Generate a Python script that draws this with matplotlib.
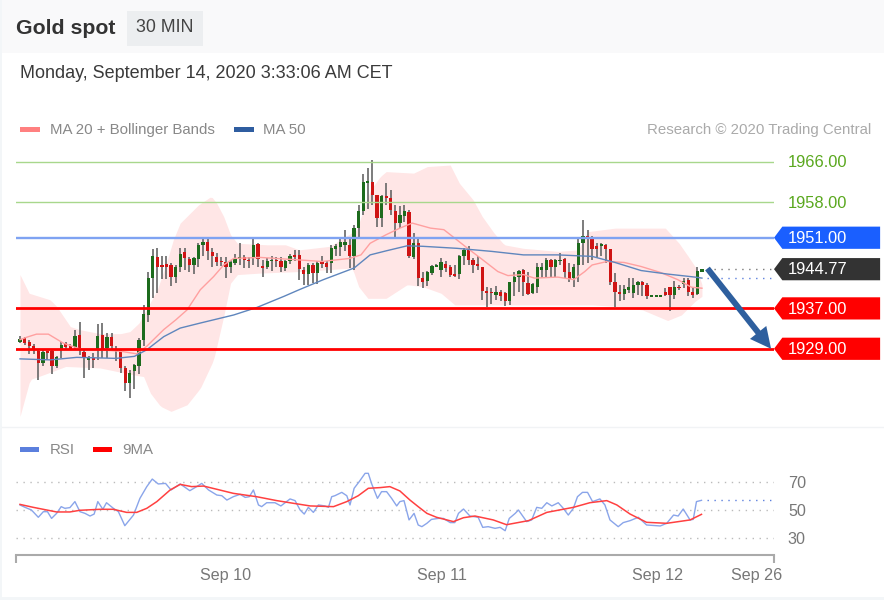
import numpy as np
import matplotlib
matplotlib.use("Agg")
import matplotlib.pyplot as plt
from matplotlib.patches import Polygon, Rectangle

plt.rcParams['font.family'] = ['Liberation Sans', 'DejaVu Sans']

opens = [1930.4, 1931.1, 1930.3, 1929.5, 1928.6, 1926.2, 1928.5, 1928.5, 1925.5, 1928.8,
         1930.1, 1929.5, 1929.3, 1931.8, 1928.3, 1926.7, 1927.1, 1928.8, 1931.8, 1929.1,
         1931.3, 1928.9, 1928.7, 1925.2, 1922.2, 1924.5, 1925.6, 1930.8, 1935.6, 1943.0,
         1947.1, 1945.6, 1945.8, 1945.6, 1943.3, 1945.2, 1948.1, 1946.8, 1945.6, 1946.8,
         1949.6, 1950.1, 1948.1, 1947.1, 1946.4, 1946.1, 1945.3, 1946.0, 1946.8, 1947.1,
         1946.6, 1946.9, 1949.7, 1945.4, 1945.3, 1946.3, 1946.6, 1946.3, 1945.0, 1946.3,
         1947.6, 1947.6, 1944.6, 1943.8, 1945.6, 1944.0, 1946.2, 1946.0, 1946.0, 1948.8,
         1949.1, 1949.6, 1949.6, 1947.3, 1952.9, 1956.2, 1961.8, 1962.1, 1959.5, 1954.9,
         1959.2, 1958.8, 1956.2, 1953.9, 1955.4, 1956.1, 1947.1, 1949.9, 1943.0, 1942.5,
         1944.0, 1945.3, 1944.6, 1945.8, 1945.2, 1943.7, 1943.8, 1947.4, 1948.6, 1946.6,
         1945.8, 1945.3, 1940.5, 1940.3, 1939.7, 1940.2, 1940.0, 1938.4, 1942.2, 1943.3,
         1944.6, 1942.1, 1940.0, 1941.3, 1944.6, 1944.6, 1946.5, 1945.3, 1946.3, 1946.8,
         1944.3, 1943.0, 1945.6, 1949.9, 1951.4, 1951.2, 1949.3, 1949.3, 1949.6, 1948.8,
         1942.3, 1940.3, 1939.9, 1940.7, 1940.0, 1941.7, 1942.2, 1941.7, 1939.3, 1939.3,
         1939.3, 1940.2, 1941.2, 1939.7, 1941.2, 1941.8, 1942.7, 1940.3, 1939.9, 1944.2]
closes = [1931.0, 1930.1, 1929.5, 1929.0, 1926.2, 1928.3, 1928.1, 1925.6, 1927.3, 1929.8,
          1929.3, 1929.0, 1931.6, 1928.8, 1927.1, 1927.1, 1926.7, 1931.6, 1928.9, 1931.4,
          1929.5, 1928.5, 1925.2, 1922.3, 1924.3, 1925.8, 1930.8, 1935.9, 1943.0, 1947.3,
          1945.3, 1945.3, 1945.3, 1943.3, 1945.3, 1947.8, 1946.9, 1945.6, 1946.9, 1949.5,
          1950.1, 1948.3, 1947.3, 1946.2, 1946.1, 1945.2, 1946.1, 1946.9, 1947.1, 1946.5,
          1946.3, 1949.6, 1946.8, 1945.0, 1946.4, 1946.6, 1946.3, 1945.3, 1946.3, 1947.3,
          1947.1, 1944.8, 1943.8, 1945.5, 1944.1, 1946.0, 1945.8, 1945.3, 1948.9, 1949.3,
          1950.1, 1950.1, 1947.3, 1952.9, 1956.2, 1962.0, 1962.3, 1959.5, 1954.9, 1959.2,
          1958.8, 1956.5, 1953.9, 1955.5, 1956.2, 1947.3, 1949.9, 1943.0, 1942.3, 1944.3,
          1945.4, 1945.6, 1946.1, 1945.0, 1943.7, 1943.5, 1947.4, 1948.6, 1946.6, 1945.6,
          1945.4, 1940.5, 1940.0, 1940.0, 1940.3, 1939.4, 1938.4, 1942.2, 1943.3, 1944.5,
          1942.3, 1939.9, 1941.8, 1945.2, 1945.2, 1946.6, 1945.3, 1946.5, 1946.6, 1944.3,
          1942.8, 1945.3, 1949.9, 1951.4, 1951.1, 1948.8, 1948.7, 1949.8, 1948.8, 1942.3,
          1940.3, 1939.9, 1940.8, 1941.2, 1941.7, 1942.2, 1941.7, 1939.4, 1939.4, 1939.4,
          1939.4, 1939.7, 1939.7, 1941.3, 1941.0, 1942.5, 1940.3, 1939.7, 1944.5, 1944.8]
highs = [1931.6, 1931.4, 1930.8, 1930.0, 1929.0, 1928.8, 1928.5, 1928.8, 1927.5, 1930.3,
         1930.3, 1929.9, 1932.8, 1934.3, 1928.8, 1927.5, 1928.1, 1933.9, 1934.1, 1932.2,
         1932.1, 1929.5, 1928.8, 1925.6, 1924.8, 1925.9, 1931.1, 1937.7, 1944.3, 1948.7,
         1948.9, 1947.3, 1947.3, 1946.0, 1945.6, 1948.9, 1948.9, 1947.1, 1947.1, 1949.9,
         1950.7, 1950.7, 1948.9, 1947.9, 1947.1, 1947.1, 1946.6, 1947.8, 1949.9, 1947.6,
         1947.1, 1950.7, 1949.9, 1946.5, 1946.9, 1947.3, 1947.1, 1947.1, 1946.5, 1947.8,
         1948.6, 1948.6, 1945.3, 1946.0, 1946.0, 1946.3, 1947.3, 1946.3, 1949.6, 1949.8,
         1950.9, 1952.6, 1950.9, 1953.5, 1957.5, 1963.6, 1964.8, 1966.3, 1959.5, 1959.5,
         1961.8, 1960.5, 1957.5, 1957.2, 1957.5, 1956.5, 1951.9, 1950.9, 1944.3, 1944.5,
         1945.6, 1945.8, 1946.9, 1946.3, 1945.6, 1945.6, 1947.6, 1948.9, 1949.3, 1946.9,
         1947.4, 1945.3, 1941.3, 1941.0, 1941.5, 1940.7, 1940.2, 1942.3, 1944.3, 1944.6,
         1944.8, 1944.3, 1942.1, 1946.0, 1946.0, 1946.9, 1946.8, 1946.8, 1947.9, 1946.9,
         1946.0, 1945.8, 1951.1, 1954.5, 1952.6, 1951.4, 1949.9, 1949.9, 1949.8, 1948.8,
         1944.0, 1941.7, 1941.7, 1943.0, 1943.0, 1942.5, 1942.5, 1942.0, 1939.4, 1939.4,
         1939.4, 1941.0, 1941.2, 1942.5, 1941.7, 1943.0, 1943.0, 1941.3, 1945.3, 1944.8]
lows = [1930.1, 1929.8, 1928.0, 1928.0, 1922.9, 1925.5, 1926.7, 1924.0, 1925.2, 1927.1,
        1928.8, 1928.7, 1928.8, 1927.8, 1923.2, 1924.7, 1925.2, 1926.8, 1927.1, 1927.1,
        1928.8, 1926.5, 1924.3, 1920.7, 1919.2, 1921.0, 1924.0, 1929.5, 1934.4, 1939.0,
        1940.1, 1942.8, 1942.8, 1941.5, 1942.1, 1944.3, 1944.6, 1944.3, 1943.8, 1945.2,
        1947.4, 1946.5, 1945.2, 1945.4, 1945.4, 1943.1, 1944.0, 1945.6, 1945.6, 1945.0,
        1945.0, 1945.6, 1945.3, 1943.2, 1944.8, 1944.5, 1945.3, 1944.3, 1944.5, 1945.8,
        1946.3, 1942.7, 1941.7, 1941.7, 1942.0, 1941.9, 1945.0, 1944.1, 1944.0, 1947.3,
        1947.3, 1948.3, 1945.0, 1944.6, 1950.9, 1955.5, 1956.7, 1957.5, 1953.1, 1953.2,
        1957.5, 1955.5, 1950.7, 1952.9, 1954.2, 1946.9, 1946.8, 1941.5, 1941.0, 1941.5,
        1943.7, 1945.2, 1943.3, 1944.3, 1943.3, 1943.2, 1942.8, 1945.6, 1945.6, 1944.1,
        1944.6, 1938.7, 1937.2, 1937.9, 1938.7, 1938.4, 1937.4, 1937.7, 1939.4, 1940.3,
        1939.4, 1939.7, 1939.9, 1940.1, 1943.0, 1943.0, 1943.2, 1943.3, 1945.6, 1943.0,
        1942.3, 1941.2, 1942.3, 1945.6, 1946.0, 1946.6, 1946.9, 1947.3, 1946.0, 1941.7,
        1937.2, 1938.4, 1938.7, 1940.0, 1939.0, 1939.7, 1939.4, 1938.8, 1939.3, 1939.3,
        1939.3, 1939.5, 1936.4, 1938.8, 1940.7, 1941.0, 1939.5, 1939.0, 1939.7, 1944.2]

upper_x = [0, 2, 6.6, 8, 9.5, 11, 13, 17.5, 22, 24, 26, 28, 30, 32, 33.5, 35, 39, 41.8, 43, 44.5,
           46, 47.5, 54, 58, 61, 67.7, 73.6, 75, 76.6, 78.7, 80, 86, 89, 94, 96, 99, 101, 103.6,
           105.8, 110, 117.5, 122, 124, 130, 141, 144, 146, 148, 149]
upper_y = [1943.7, 1940.0, 1938.7, 1937.4, 1935.4, 1933.4, 1932.8, 1932.0, 1932.0, 1932.4, 1934.1,
           1937.4, 1940.7, 1946.0, 1950.6, 1953.9, 1957.5, 1959.2, 1957.8, 1955.2, 1951.6, 1949.9,
           1949.6, 1949.6, 1948.6, 1949.3, 1952.6, 1956.5, 1960.5, 1963.1, 1964.1, 1963.8, 1965.1,
           1965.4, 1961.8, 1958.5, 1955.2, 1951.9, 1949.6, 1948.9, 1948.3, 1948.6, 1952.2, 1952.9,
           1952.9, 1949.9, 1947.3, 1944.6, 1941.7]
lower_x = [0, 2.2, 5, 10, 17.5, 25, 27, 28.5, 30.7, 33, 36.5, 39.4, 42.3, 44.5, 46, 47.5, 52.5, 61,
           66, 72.6, 74, 76, 80, 84.6, 88, 92, 95, 103, 110, 125, 130, 136, 141.5, 144.5, 147.5, 149]
lower_y = [1915.6, 1922.9, 1923.8, 1925.5, 1925.2, 1923.8, 1923.5, 1920.2, 1917.6, 1916.6, 1917.9,
           1921.2, 1926.8, 1935.4, 1942.0, 1943.7, 1944.0, 1944.3, 1944.6, 1945.0, 1941.3, 1939.0,
           1939.0, 1941.7, 1941.3, 1940.0, 1937.7, 1937.7, 1937.7, 1937.7, 1937.4, 1936.7, 1934.6,
           1935.7, 1938.4, 1939.4]
ma20_x = [0, 1.5, 3.6, 6.2, 9.5, 13, 17.5, 22, 25.5, 27.7, 31.4, 34, 36.5, 39.4, 42.3, 44.5, 46.7,
          52.5, 61, 66, 72, 74.5, 76.5, 80, 83, 85.7, 89.7, 92.6, 95, 97.8, 100.7, 104.4, 106.6,
          110, 112.4, 117.5, 121, 123.4, 125, 128.3, 132, 135.7, 140, 143.7, 146.7, 149]
ma20_y = [1930.8, 1931.3, 1931.9, 1931.9, 1930.1, 1929.0, 1928.8, 1928.5, 1928.0, 1929.5, 1932.8,
          1934.7, 1936.7, 1940.7, 1943.3, 1945.6, 1946.9, 1947.1, 1946.6, 1946.3, 1946.9, 1947.6,
          1949.9, 1951.6, 1952.9, 1953.9, 1952.9, 1952.6, 1950.9, 1948.9, 1946.9, 1944.3, 1943.5,
          1943.7, 1943.0, 1943.2, 1942.7, 1944.3, 1945.6, 1946.3, 1946.1, 1945.3, 1944.1, 1942.7,
          1941.2, 1941.0]
ma50_x = [0, 6.6, 12.4, 21, 25, 27.7, 31.4, 35, 39.4, 46.7, 51.8, 57.7, 61, 66.3, 73, 76.5, 80, 84.6,
          88, 95.5, 103, 110, 117.5, 125, 130, 135.7, 141.5, 147.5, 149]
ma50_y = [1927.0, 1926.8, 1927.3, 1927.1, 1927.5, 1928.8, 1931.4, 1933.1, 1934.1, 1935.7, 1937.2,
          1939.4, 1940.7, 1942.7, 1945.0, 1947.6, 1948.4, 1949.4, 1949.3, 1948.9, 1948.3, 1947.6,
          1947.6, 1947.3, 1946.1, 1944.5, 1943.8, 1943.2, 1943.0]

rsi_x = [0, 1.1, 2.5, 4.0, 5.1, 6.0, 6.9, 8.0, 9.0, 9.8, 10.9, 12.0, 13.1, 14.2, 15.3, 16.2, 17.0,
         18.1, 18.9, 20.4, 21.5, 22.9, 24.8, 26.2, 27.7, 28.9, 30.2, 31.8, 33.0, 35.0, 37.1, 38.6,
         39.7, 41.2, 43.0, 44.1, 45.2, 46.6, 48.1, 49.2, 50.1, 51.0, 52.1, 52.8, 53.9, 55.7, 57.0,
         59.0, 60.1, 61.2, 62.1, 63.0, 64.1, 65.2, 66.6, 67.4, 68.1, 68.8, 70.3, 71.4, 72.1, 73.0,
         74.1, 75.4, 76.1, 76.8, 78.1, 79.0, 80.1, 81.2, 82.3, 83.0, 83.9, 85.0, 86.1, 87.0, 87.8,
         88.9, 89.9, 91.4, 92.5, 94.0, 95.0, 95.8, 96.9, 98.3, 100.1, 101.1, 102.3, 103.8, 104.9,
         106.0, 106.9, 108.2, 108.9, 110.7, 111.8, 112.9, 114.0, 115.1, 116.2, 117.6, 118.7, 119.8,
         120.9, 121.8, 122.9, 124.0, 125.1, 126.7, 127.8, 128.9, 130.7, 131.8, 133.3, 135.1, 136.9,
         139.9, 141.3, 142.8, 143.8, 144.9, 146.4, 147.1, 147.8, 148.9]
rsi_y = [53.6, 51.9, 50.0, 44.8, 48.8, 48.8, 44.0, 47.6, 52.4, 51.2, 51.7, 56.0, 48.8, 47.6, 45.7,
         47.1, 56.0, 50.5, 55.2, 51.2, 48.8, 38.8, 46.4, 58.3, 66.7, 72.1, 68.6, 69.0, 64.3, 68.6,
         63.8, 66.7, 69.0, 64.3, 60.7, 60.2, 57.1, 59.5, 61.2, 59.0, 59.5, 64.3, 53.6, 52.4, 55.2,
         55.2, 52.9, 57.9, 56.7, 50.0, 47.1, 51.9, 48.3, 53.6, 52.9, 51.9, 59.5, 60.2, 62.6, 60.2,
         53.6, 65.5, 70.2, 76.2, 76.2, 69.0, 58.3, 63.1, 63.1, 58.3, 52.9, 56.0, 56.7, 42.9, 47.6,
         39.3, 38.1, 40.5, 43.3, 44.0, 44.0, 41.0, 41.0, 47.6, 50.7, 45.7, 44.8, 37.6, 38.1, 36.9,
         37.6, 35.2, 44.0, 47.6, 50.0, 41.7, 42.9, 51.9, 51.2, 55.2, 52.9, 55.2, 51.2, 46.4, 51.2,
         59.5, 62.6, 62.6, 56.0, 57.9, 53.6, 42.9, 38.1, 41.0, 42.4, 44.8, 39.3, 38.6, 40.5, 46.4,
         45.7, 50.7, 42.9, 43.3, 56.0, 56.9]
ma9_x = [0, 2.9, 8.0, 10.9, 13.1, 17.5, 20.4, 23.3, 25.5, 27.7, 29.9, 32.8, 35.0, 37.5, 40.1, 43.0,
         46.6, 51.7, 56.1, 59.7, 63.4, 68.5, 71.4, 73.9, 76.1, 78.7, 80.8, 83.0, 85.2, 87.0, 88.9,
         91.0, 94.7, 96.9, 99.4, 103.4, 106.3, 111.1, 115.1, 120.9, 124.5, 128.2, 130.4, 133.3,
         136.9, 141.3, 146.4, 148.9]
ma9_y = [54.0, 51.9, 48.6, 48.6, 49.8, 50.5, 50.5, 48.3, 48.3, 51.2, 56.0, 64.3, 68.3, 66.7, 67.1,
         64.8, 61.9, 59.5, 56.7, 54.8, 52.9, 52.4, 56.0, 60.2, 65.5, 66.0, 66.7, 63.6, 57.1, 52.4,
         47.6, 44.8, 41.7, 44.5, 45.7, 42.9, 39.5, 42.4, 48.3, 51.9, 55.2, 56.7, 53.6, 47.1, 41.2,
         40.5, 42.9, 46.9]

green_levels = [1966.00, 1958.00]
blue_level = 1951.00
red_levels = [1937.00, 1929.00]
last_price = 1944.77
last_ma50 = 1943.0
last_rsi = 56.9
date_ticks = [45, 92.2, 139.2, 161]
date_labels = ['Sep 10', 'Sep 11', 'Sep 12', 'Sep 26']

W, H = 884, 600


def px_axes(left, top, right, bottom):
    return fig.add_axes([left / W, (H - bottom) / H, (right - left) / W, (bottom - top) / H])


def price_tag(ax, level, text, color):
    # pentagon tag right of the plot, x in axes fraction and y in price
    pts = [(1.0, level), (1.011, level + 2.2), (1.14, level + 2.2),
           (1.14, level - 2.2), (1.011, level - 2.2)]
    ax.add_patch(Polygon(pts, closed=True, transform=ax.get_yaxis_transform(), facecolor=color,
                         edgecolor='none', clip_on=False, zorder=6))
    ax.text(1.0185, level - 0.15, text, transform=ax.get_yaxis_transform(), color='white', fontsize=11.9,
            va='center', ha='left', zorder=7)


fig = plt.figure(figsize=(W / 100, H / 100), dpi=100, facecolor='#f3f6f8')

# page background and header
bg = fig.add_axes([0, 0, 1, 1], zorder=0)
bg.set_xlim(0, W)
bg.set_ylim(H, 0)
bg.axis('off')
bg.add_patch(Rectangle((2, 0), W - 2, 597, facecolor='white', edgecolor='none'))
bg.add_patch(Rectangle((2, 0), W - 2, 53, facecolor='#f9f9fa', edgecolor='none'))
bg.add_patch(Rectangle((127, 11), 76, 35, facecolor='#eceef0', edgecolor='none'))
bg.plot([2, W], [427, 427], color='#f1f3f5', lw=1)
bg.text(16, 29, 'Gold spot', fontsize=15.3, fontweight='bold', color='#333333', va='center')
bg.text(165, 28, '30 MIN', fontsize=12.8, color='#444444', va='center', ha='center')
bg.text(20, 73.5, 'Monday, September 14, 2020 3:33:06 AM CET', fontsize=13, color='#3a3a3a', va='center')

# legends
bg.add_patch(Rectangle((20, 127), 20, 5, facecolor='#ff8080', edgecolor='none'))
bg.text(50, 130, 'MA 20 + Bollinger Bands', fontsize=10.8, color='#888888', va='center')
bg.add_patch(Rectangle((234, 127), 20, 5, facecolor='#2f5da0', edgecolor='none'))
bg.text(263, 130, 'MA 50', fontsize=10.8, color='#888888', va='center')
bg.text(871, 130, 'Research \u00a9 2020 Trading Central', fontsize=10.8, color='#aaaaaa', va='center', ha='right')
bg.add_patch(Rectangle((20, 447), 19, 5, facecolor='#5b7fdd', edgecolor='none'))
bg.text(50, 450, 'RSI', fontsize=10.8, color='#888888', va='center')
bg.add_patch(Rectangle((93, 447), 19, 5, facecolor='#ff0000', edgecolor='none'))
bg.text(122, 450, '9MA', fontsize=10.8, color='#888888', va='center')

# price pane
ax = px_axes(16, 150, 774, 425)
ax.set_zorder(2)
ax.patch.set_alpha(0)
ax.set_xlim(-0.874, 164.74)
ax.set_ylim(1913.9, 1968.38)
ax.axis('off')

bars = np.arange(len(closes))
grid_x = np.arange(0, 149.5, 0.5)
ax.fill_between(grid_x, np.interp(grid_x, lower_x, lower_y), np.interp(grid_x, upper_x, upper_y),
                color='#ffe6e6', lw=0, zorder=1)

o = np.array(opens)
c = np.array(closes)
colors = np.where(c >= o, '#1d6b1d', '#cf1414')
ax.vlines(bars, lows, highs, color='#666666', lw=1.2, zorder=2)
ax.bar(bars, np.maximum(np.abs(c - o), 0.3), bottom=np.minimum(o, c), width=0.72, color=colors, zorder=3)

ax.plot(ma20_x, ma20_y, color='#ffa0a0', lw=1.0, zorder=4)
ax.plot(ma50_x, ma50_y, color='#5f86bd', lw=1.0, zorder=4)

for lv in green_levels:
    ax.plot([-0.874, 164.74], [lv, lv], color='#a8d78c', lw=1.0, zorder=5)
    ax.text(1.0185, lv - 0.15, '%.2f' % lv, transform=ax.get_yaxis_transform(), color='#5aa81e',
            fontsize=11.9, va='center', ha='left')
ax.plot([-0.874, 164.74], [blue_level, blue_level], color='#7fa3f2', lw=1.7, zorder=5)
for lv in red_levels:
    ax.plot([-0.874, 164.74], [lv, lv], color='#ff0000', lw=2.0, zorder=5)

ax.plot([150, 164.74], [last_price, last_price], color='#777777', lw=1.0, ls=(0, (1, 4)), zorder=5)
ax.plot([150, 164.74], [last_ma50, last_ma50], color='#5b7fdd', lw=1.0, ls=(0, (1, 4)), zorder=5)

price_tag(ax, blue_level, '%.2f' % blue_level, '#1a5fff')
price_tag(ax, last_price, '%.2f' % last_price, '#333333')
for lv in red_levels:
    price_tag(ax, lv, '%.2f' % lv, '#ff0000')

ax.annotate('', xy=(164.1, 1929.0), xytext=(150.2, 1944.9),
            arrowprops=dict(width=4.3, headwidth=15, headlength=15, facecolor='#2e5f9e',
                            edgecolor='#2e5f9e', lw=0, shrink=0), zorder=6)

# rsi pane
ax2 = px_axes(16, 470, 774, 555)
ax2.set_zorder(2)
ax2.patch.set_alpha(0)
ax2.set_xlim(-0.874, 164.74)
ax2.set_ylim(17.86, 78.57)
for s in ['top', 'left', 'right']:
    ax2.spines[s].set_visible(False)
ax2.spines['bottom'].set_color('#aaaaaa')
ax2.spines['bottom'].set_linewidth(1.5)
ax2.plot(rsi_x, rsi_y, color='#8aa5ea', lw=1.0, zorder=3)
ax2.plot(ma9_x, ma9_y, color='#ff4040', lw=1.1, zorder=4)
ax2.plot([150, 164.74], [last_rsi, last_rsi], color='#5b7fdd', lw=1.0, ls=(0, (1, 4)), zorder=3)
ax2.set_yticks([30, 50, 70])
ax2.yaxis.tick_right()
ax2.tick_params(axis='y', length=0, pad=10, labelsize=11.6, labelcolor='#777777')
ax2.grid(axis='y', color='#bbbbbb', lw=1.0, ls=(0, (1, 4)))
ax2.set_xticks(date_ticks)
ax2.set_xticklabels(date_labels)
ax2.tick_params(axis='x', length=0, pad=9.5, labelsize=11.6, labelcolor='#777777')
ax2.set_xticks([-0.874, 164.74], minor=True)
ax2.tick_params(axis='x', which='minor', length=6, width=1.5, color='#aaaaaa')

fig.savefig('out.png', dpi=100)
